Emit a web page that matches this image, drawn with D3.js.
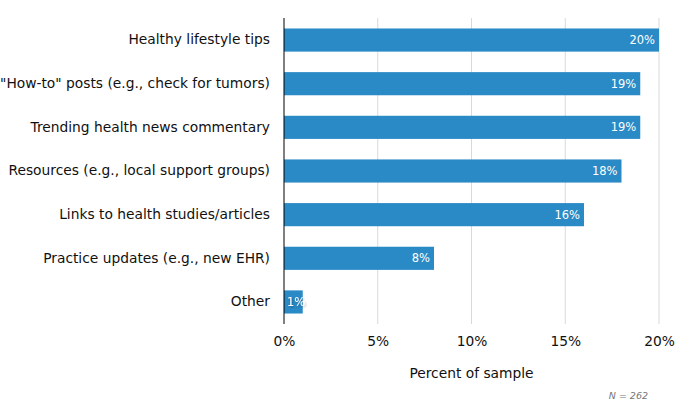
<!DOCTYPE html>
<html><head><meta charset="utf-8">
<script src="https://cdn.jsdelivr.net/npm/d3@7"></script>
<style>
body{margin:0;background:#fff;}
svg text{font-family:"DejaVu Sans",Verdana,sans-serif;}
</style></head>
<body><svg id="c" width="675" height="418"></svg>
<script>
const categories = ["Healthy lifestyle tips","\"How-to\" posts (e.g., check for tumors)","Trending health news commentary","Resources (e.g., local support groups)","Links to health studies/articles","Practice updates (e.g., new EHR)","Other"];
const values = [20,19,19,18,16,8,1];
const ticks = [0,5,10,15,20];
const xTitle = "Percent of sample";
const note = "N = 262";

const svg = d3.select("#c");
const x = d3.scaleLinear().domain([0,20]).range([284,659]);
const y = d3.scaleBand().domain(categories).range([18,324]).paddingInner(0.47).paddingOuter(0.24);

svg.append("g").selectAll("line").data(ticks.slice(1)).join("line")
  .attr("x1",d=>x(d)).attr("x2",d=>x(d)).attr("y1",18).attr("y2",324)
  .attr("stroke","#d9d9d9").attr("stroke-width",1);

svg.append("g").selectAll("rect").data(values).join("rect")
  .attr("x",x(0)).attr("y",(d,i)=>y(categories[i]))
  .attr("width",d=>x(d)-x(0)).attr("height",y.bandwidth())
  .attr("fill","#2a8ac6");

const defs = svg.append("defs");
const f = defs.append("filter").attr("id","sh").attr("x","-50%").attr("y","-50%").attr("width","200%").attr("height","200%");
f.append("feDropShadow").attr("dx",1).attr("dy",1).attr("stdDeviation",1.2).attr("flood-color","#000").attr("flood-opacity",0.35);

svg.append("g").selectAll("text").data(values).join("text")
  .attr("x",d=> d<3 ? x(0)+3 : x(d)-4)
  .attr("text-anchor",d=> d<3 ? "start":"end")
  .attr("y",(d,i)=>y(categories[i])+y.bandwidth()/2)
  .attr("dy","0.35em").attr("font-size",11.5).attr("fill","#fff")
  .attr("filter",d=> d<3 ? "url(#sh)":null)
  .text(d=>d+"%");

const yAxis = svg.append("g").attr("transform",`translate(${x(0)},0)`)
  .call(d3.axisLeft(y).tickSize(0).tickPadding(14));
yAxis.select(".domain").remove();
yAxis.selectAll("text").attr("font-size",13.8).attr("fill","#111").style("font-family","'DejaVu Sans',Verdana,sans-serif");

svg.append("line").attr("x1",x(0)).attr("x2",x(0)).attr("y1",18).attr("y2",324).attr("stroke","#000").attr("stroke-width",1);

const xAxis = svg.append("g").attr("transform","translate(0,324)")
  .call(d3.axisBottom(x).tickValues(ticks).tickSize(0).tickPadding(12).tickFormat(d=>d+"%"));
xAxis.select(".domain").remove();
xAxis.selectAll("text").attr("font-size",13.8).attr("fill","#111").style("font-family","'DejaVu Sans',Verdana,sans-serif");

svg.append("text").attr("x",x(10)).attr("y",378).attr("text-anchor","middle")
  .attr("font-size",13.8).attr("fill","#111").text(xTitle);
svg.append("text").attr("x",648).attr("y",399).attr("text-anchor","end")
  .attr("font-size",9.5).attr("font-style","italic").attr("fill","#777").text(note);
</script></body></html>
